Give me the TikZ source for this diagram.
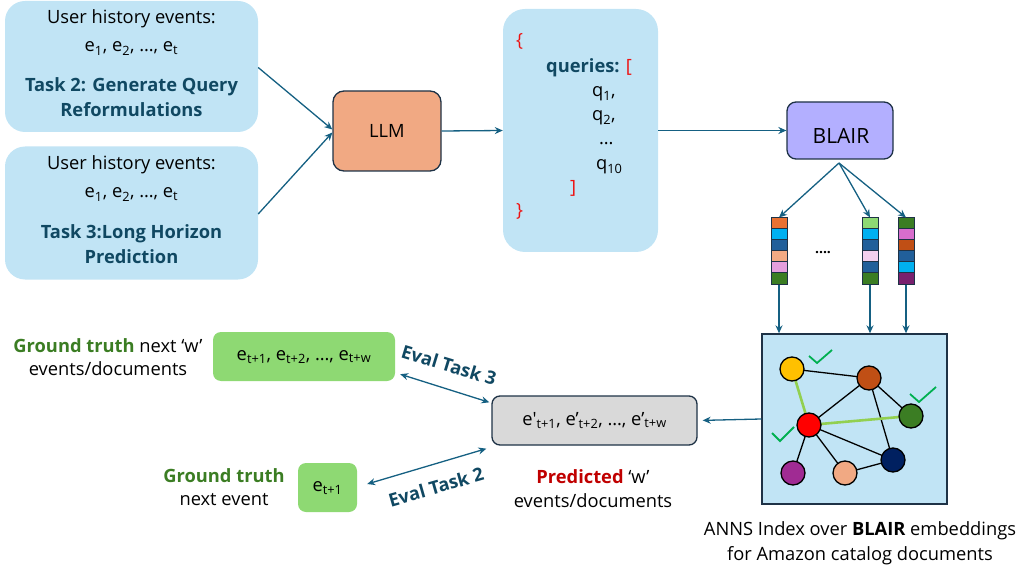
\documentclass[tikz,border=0pt]{standalone}
\usepackage{fontspec}
\setmainfont{Open Sans}
\usetikzlibrary{arrows.meta,calc}

\definecolor{arrowc}{HTML}{156082}
\definecolor{tealtext}{HTML}{104862}
\definecolor{paleblue}{HTML}{C1E4F5}
\definecolor{llmfill}{HTML}{F1A983}
\definecolor{blairfill}{HTML}{B3AFFF}
\definecolor{edgeline}{HTML}{1E3246}
\definecolor{predgray}{HTML}{D9D9D9}
\definecolor{gtfill}{HTML}{8ED973}
\definecolor{gttext}{HTML}{3B7D23}
\definecolor{tickgreen}{HTML}{00B050}
\definecolor{predred}{HTML}{C00000}
\definecolor{brackred}{HTML}{EE1111}
\definecolor{linkgreen}{HTML}{92D050}
% vector cell colours
\definecolor{cOrange}{HTML}{E97132}
\definecolor{cCyan}{HTML}{00B0F0}
\definecolor{cBlue}{HTML}{215F9A}
\definecolor{cSalmon}{HTML}{F2AA84}
\definecolor{cPink}{HTML}{E59EDD}
\definecolor{cGreen}{HTML}{3B7D23}
\definecolor{cLime}{HTML}{8ED973}
\definecolor{cLilac}{HTML}{F2CFEE}
\definecolor{cOrchid}{HTML}{D86DCD}
\definecolor{cRust}{HTML}{C04F15}
\definecolor{cPlum}{HTML}{78206E}
% graph node colours
\definecolor{gYellow}{HTML}{FFC000}
\definecolor{gNavy}{HTML}{002060}
\definecolor{gPurple}{HTML}{A02B93}

\newcommand\sbs[1]{\textsubscript{#1}}

\begin{document}
\begin{tikzpicture}[x=1pt,y=-1pt,
  font=\fontsize{18.3}{24}\selectfont,
  txt/.style={inner sep=0pt, anchor=base},
  txtl/.style={inner sep=0pt, anchor=base west},
  tealbold/.style={text=tealtext, font=\fontsize{18.3}{24}\selectfont\bfseries},
  panel/.style={fill=paleblue, draw=none, rounded corners=20pt, inner sep=0pt},
  procbox/.style={draw=edgeline, line width=1.3pt, rounded corners=11pt, inner sep=0pt},
  resbox/.style={fill=gtfill, draw=none, rounded corners=8pt, inner sep=0pt},
  arr/.style={draw=arrowc, line width=1.3pt, -{Stealth[length=8pt,width=7pt]}},
  darr/.style={draw=arrowc, line width=1.3pt, {Stealth[length=8pt,width=7pt]}-{Stealth[length=8pt,width=7pt]}},
  cell/.style={draw=edgeline, line width=1pt, minimum width=16pt, minimum height=11pt, inner sep=0pt},
  gnode/.style={circle, draw=black, line width=1.3pt, minimum size=24pt, inner sep=0pt},
  glink/.style={draw=black, line width=1.3pt},
  gbest/.style={draw=linkgreen, line width=2.6pt},
  tick/.style={draw=tickgreen, line width=1.8pt}
]
\useasboundingbox (0,0) rectangle (1022,569);

% ---- input panels ----
\node[panel, minimum width=253pt, minimum height=131pt] (histA) at (131.5,66.5) {};
\node[txt] (histA1) at (131.5,23.5) {User history events:};
\node[txt] (histA2) at (131.5,52) {e\sbs{1}, e\sbs{2}, …, e\sbs{t}};
\node[txt, tealbold] (histA3) at (131.5,92) {Task 2: Generate Query};
\node[txt, tealbold] (histA4) at (131.5,117) {Reformulations};

\node[panel, minimum width=253pt, minimum height=133pt] (histB) at (131.5,213) {};
\node[txt] (histB1) at (131.5,170) {User history events:};
\node[txt] (histB2) at (131.5,198) {e\sbs{1}, e\sbs{2}, …, e\sbs{t}};
\node[txt, tealbold] (histB3) at (131.5,239) {Task 3:Long Horizon};
\node[txt, tealbold] (histB4) at (131.5,263) {Prediction};

% ---- LLM ----
\node[procbox, fill=llmfill, minimum width=108pt, minimum height=80pt] (llm) at (387,131) {};
\node[txt] (llmt) at (387,138) {LLM};

\draw[arr] ([yshift=-1pt]histA.east) -- ([yshift=1.5pt]llm.west);
\draw[arr] ([yshift=-1pt]histB.east) -- ([yshift=-1.5pt]llm.west);

% ---- query output ----
\node[panel, rounded corners=22pt, minimum width=155pt, minimum height=243pt] (qbox) at (580.5,130.5) {};
\node[txtl, text=brackred] (qb1) at (516,47) {\{};
\node[txtl] (qb2) at (546,73) {\textcolor{tealtext}{\bfseries queries:} \textcolor{brackred}{[}};
\node[txtl] (qb3) at (592,97) {q\sbs{1},};
\node[txtl] (qb4) at (592,121) {q\sbs{2},};
\node[txtl] (qb5) at (599,145) {…};
\node[txtl] (qb6) at (596,170) {q\sbs{10}};
\node[txtl, text=brackred] (qb7) at (570,194) {]};
\node[txtl, text=brackred] (qb8) at (516,217) {\}};

\draw[arr] (llm.east) -- (qbox.west);

% ---- BLAIR encoder ----
\node[procbox, fill=blairfill, rounded corners=9pt, minimum width=106pt, minimum height=57pt] (blair) at (840,130.5) {};
\node[txt, font=\fontsize{21}{24}\selectfont] (blairt) at (841,144) {BLAIR};
\draw[arr] (qbox.east) -- (blair.west);
\coordinate (fan) at (839,163);

% ---- embedding vectors ----
\foreach \c [count=\k] in {cOrange,cCyan,cBlue,cSalmon,cPink,cGreen}
  \node[cell, fill=\c] (va\k) at (779,{212.5+11*\k}) {};
\foreach \c [count=\k] in {cLime,cCyan,cBlue,cLilac,cBlue,cGreen}
  \node[cell, fill=\c] (vb\k) at (870,{212.5+11*\k}) {};
\foreach \c [count=\k] in {cGreen,cOrchid,cRust,cBlue,cCyan,cPlum}
  \node[cell, fill=\c] (vc\k) at (906,{212.5+11*\k}) {};
\node[inner sep=0pt] (vdots) at (823,253) {\fontsize{14}{14}\selectfont\textbf{....}};

\draw[arr] (fan) -- (va1.north);
\draw[arr] (fan) -- (vb1.north);
\draw[arr] (fan) -- (vc1.north);

% ---- ANNS index ----
\node[draw=edgeline, fill=paleblue, line width=1.3pt, minimum width=185pt, minimum height=170pt, inner sep=0pt] (anns) at (854.5,419) {};
\draw[arr] (va6.south) -- (va6.south |- anns.north);
\draw[arr] (vb6.south) -- (vb6.south |- anns.north);
\draw[arr] (vc6.south) -- (vc6.south |- anns.north);

% graph: centres first, links, then the discs on top
\coordinate (cy) at (792,369);
\coordinate (cb) at (869,378);
\coordinate (cg) at (911,416);
\coordinate (cr) at (809,425);
\coordinate (cn) at (893,460);
\coordinate (cs) at (845,473);
\coordinate (cp) at (793,473);
\draw[glink] (cy) -- (cb);
\draw[glink] (cr) -- (cb);
\draw[glink] (cb) -- (cg);
\draw[glink] (cb) -- (cn);
\draw[glink] (cr) -- (cn);
\draw[glink] (cr) -- (cp);
\draw[glink] (cr) -- (cs);
\draw[glink] (cs) -- (cn);
\draw[gbest] (cy) -- (cr);
\draw[gbest] (cr) -- (cg);
\node[gnode, fill=gYellow] (gy) at (cy) {};
\node[gnode, fill=cRust] (gb) at (cb) {};
\node[gnode, fill=cGreen] (gg) at (cg) {};
\node[gnode, fill=red] (gr) at (cr) {};
\node[gnode, fill=gNavy] (gn) at (cn) {};
\node[gnode, fill=llmfill] (gs) at (cs) {};
\node[gnode, fill=gPurple] (gp) at (cp) {};

\draw[tick] (809,356) -- (817,363) -- (832,350);
\draw[tick] (910,394) -- (919,402) -- (936,387);
\draw[tick] (772,433) -- (780,441) -- (794,427);

\node[txt] (cap1) at (860,535) {ANNS Index over \textbf{BLAIR} embeddings};
\node[txt] (cap2) at (860,560) {for Amazon catalog documents};

% ---- prediction ----
\node[procbox, fill=predgray, rounded corners=8pt, minimum width=205pt, minimum height=49pt] (pred) at (594.5,420.5) {};
\node[txt] (predt) at (594.5,425) {e\textquotesingle\sbs{t+1}, e’\sbs{t+2}, …, e’\sbs{t+w}};
\draw[arr, shorten >=5pt] (anns.west) -- (pred.east);
\node[txt] (predl1) at (593,483) {\textcolor{predred}{\bfseries Predicted} ‘w’};
\node[txt] (predl2) at (593,507) {events/documents};

% ---- ground truth ----
\node[resbox, minimum width=182pt, minimum height=49pt] (gtw) at (304,356.5) {};
\node[txt] (gtwt) at (304,360) {e\sbs{t+1}, e\sbs{t+2}, …, e\sbs{t+w}};
\node[txt] (gtwl1) at (108,352) {\textcolor{gttext}{\bfseries Ground truth} next ‘w’};
\node[txt] (gtwl2) at (108,375) {events/documents};

\node[resbox, minimum width=59pt, minimum height=49pt] (gt1) at (327.5,487.5) {};
\node[txt] (gt1t) at (327.5,491) {e\sbs{t+1}};
\node[txt] (gt1l1) at (224,482) {\textcolor{gttext}{\bfseries Ground truth}};
\node[txt] (gt1l2) at (224,505) {next event};

% ---- evaluation links ----
\draw[darr] ([shift={(5,-7)}]gtw.south east) -- ([shift={(-2,7)}]pred.north west);
\draw[darr] ([shift={(10,-3.5)}]gt1.east) -- ([shift={(-5,3)}]pred.south west);
\node[tealbold, inner sep=0pt, rotate=-17] (ev3) at (449,365) {Eval Task 3};
\node[tealbold, inner sep=0pt, rotate=16] (ev2) at (436,487) {Eval Task 2};
\end{tikzpicture}
\end{document}
